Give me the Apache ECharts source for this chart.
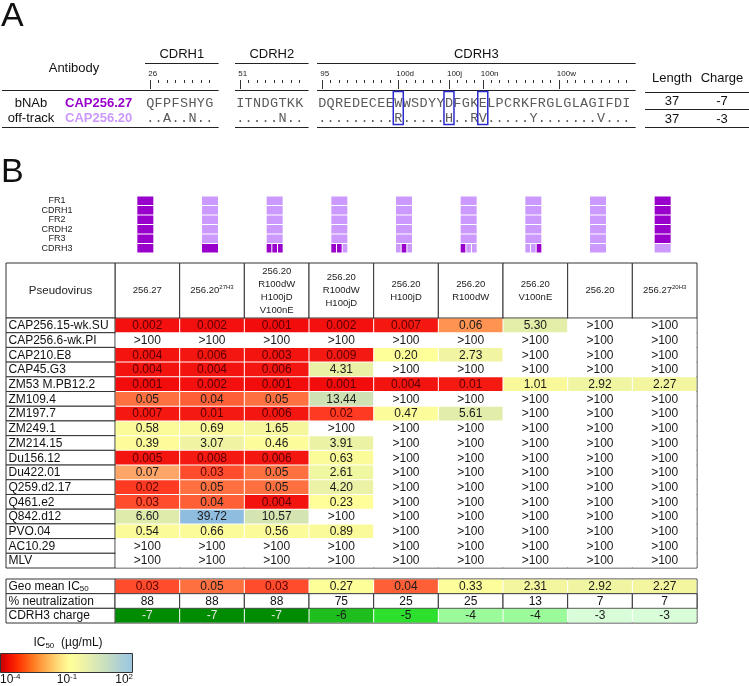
<!DOCTYPE html>
<html><head><meta charset="utf-8">
<script src="https://cdn.jsdelivr.net/npm/echarts@6/dist/echarts.min.js"></script>
<style>html,body{margin:0;padding:0;background:#fff}#c{width:749px;height:686px}</style>
</head><body><div id="c"></div>
<script>
// ================= DATA =================
// Panel A
const abRoles = ['bNAb', 'off-track'];
const abNames = ['CAP256.27', 'CAP256.20'];
const cdrBlocks = ['CDRH1', 'CDRH2', 'CDRH3'];
const cdrh1Seq = ['QFPFSHYG', '..A..N..'];
const cdrh2Seq = ['ITNDGTKK', '.....N..'];
const cdrh3Seq = ['DQREDECEEWWSDYYDFGKELPCRKFRGLGLAGIFDI', '.........R.....H..RV.....Y.......V...'];
const cdrh1Numbering = [[0, '26']];
const cdrh2Numbering = [[0, '51']];
const cdrh3Numbering = [[0, '95'], [9, '100d'], [15, '100j'], [19, '100n'], [28, '100w']];
const cdrh3Boxed = [9, 15, 19];
const seqLength = ['37', '37'];
const seqCharge = ['-7', '-3'];

// Panel B
const regionLabels = ['FR1', 'CDRH1', 'FR2', 'CRDH2', 'FR3', 'CDRH3'];
const colHeaders = [
  ['256.27'],
  ['256.20{s|27H3}'],
  ['256.20', 'R100dW', 'H100jD', 'V100nE'],
  ['256.20', 'R100dW', 'H100jD'],
  ['256.20', 'H100jD'],
  ['256.20', 'R100dW'],
  ['256.20', 'V100nE'],
  ['256.20'],
  ['256.27{s|20H3}']
];
// 1 = region from CAP256.27, 0 = from CAP256.20 ; CDRH3 given per mutated site when mixed
const fwOrigin = [1, 0, 0, 0, 0, 0, 0, 0, 1];
const h3Origin = [1, 1, [1, 1, 1], [1, 1, 0], [0, 1, 0], [1, 0, 0], [0, 0, 1], 0, 0];
const viruses = ['CAP256.15-wk.SU', 'CAP256.6-wk.PI', 'CAP210.E8', 'CAP45.G3', 'ZM53 M.PB12.2', 'ZM109.4', 'ZM197.7', 'ZM249.1', 'ZM214.15', 'Du156.12', 'Du422.01', 'Q259.d2.17', 'Q461.e2', 'Q842.d12', 'PVO.04', 'AC10.29', 'MLV'];
const ic50 = [
  ['0.002', '0.002', '0.001', '0.002', '0.007', '0.06', '5.30', '>100', '>100'],
  ['>100', '>100', '>100', '>100', '>100', '>100', '>100', '>100', '>100'],
  ['0.004', '0.006', '0.003', '0.009', '0.20', '2.73', '>100', '>100', '>100'],
  ['0.004', '0.004', '0.006', '4.31', '>100', '>100', '>100', '>100', '>100'],
  ['0.001', '0.002', '0.001', '0.001', '0.004', '0.01', '1.01', '2.92', '2.27'],
  ['0.05', '0.04', '0.05', '13.44', '>100', '>100', '>100', '>100', '>100'],
  ['0.007', '0.01', '0.006', '0.02', '0.47', '5.61', '>100', '>100', '>100'],
  ['0.58', '0.69', '1.65', '>100', '>100', '>100', '>100', '>100', '>100'],
  ['0.39', '3.07', '0.46', '3.91', '>100', '>100', '>100', '>100', '>100'],
  ['0.005', '0.008', '0.006', '0.63', '>100', '>100', '>100', '>100', '>100'],
  ['0.07', '0.03', '0.05', '2.61', '>100', '>100', '>100', '>100', '>100'],
  ['0.02', '0.05', '0.05', '4.20', '>100', '>100', '>100', '>100', '>100'],
  ['0.03', '0.04', '0.004', '0.23', '>100', '>100', '>100', '>100', '>100'],
  ['6.60', '39.72', '10.57', '>100', '>100', '>100', '>100', '>100', '>100'],
  ['0.54', '0.66', '0.56', '0.89', '>100', '>100', '>100', '>100', '>100'],
  ['>100', '>100', '>100', '>100', '>100', '>100', '>100', '>100', '>100'],
  ['>100', '>100', '>100', '>100', '>100', '>100', '>100', '>100', '>100']
];
const summaryLabels = ['Geo mean IC{sub|50}', '% neutralization', 'CDRH3 charge'];
const geoMean = ['0.03', '0.05', '0.03', '0.27', '0.04', '0.33', '2.31', '2.92', '2.27'];
const pctNeut = ['88', '88', '88', '75', '25', '25', '13', '7', '7'];
const h3Charge = [-7, -7, -7, -6, -5, -4, -4, -3, -3];
const cbTitle = 'IC{sub|50}  (µg/mL)';
const cbTickLabels = ['10{sup|-4}', '10{sup|-1}', '10{sup|2}'];

// ================= STYLE =================
const FONT = '"Liberation Sans", Arial, sans-serif';
const MONO = '"Liberation Mono", "Courier New", monospace';
const DARK = '#9900CC', LIGHT = '#CC99FF';
const LINE = '#333';
const ic50Stops = [[-4, '#C00000'], [-3.5, '#E00404'], [-3, '#F20C0C'], [-2, '#F41A12'], [-1.7, '#FF3A22'], [-1.5, '#FF4E2E'], [-1.3, '#FF7040'], [-1.22, '#FF9452'], [-1.15, '#FFA66A'], [-1, '#FFDD88'], [-0.7, '#FFFF99'], [0, '#FAF99A'], [0.4, '#F2F6A0'], [0.6, '#ECF2A4'], [0.75, '#E2EDA9'], [1.0, '#D5E6B0'], [1.13, '#CFE2B4'], [1.6, '#8FBDE0'], [2, '#88BADF']];
const chargeColors = {'-7': '#008C00', '-6': '#1EBE1E', '-5': '#2EE02E', '-4': '#9BFB9B', '-3': '#D9FDD9'};
const cbStops = [[0, '#C00000'], [0.06, '#EE0A00'], [0.14, '#FF3300'], [0.25, '#FF7A22'], [0.35, '#FFB050'], [0.43, '#FFD877'], [0.52, '#FFFF99'], [0.6, '#F4F6A2'], [0.7, '#DDEBB2'], [0.82, '#C3DBC4'], [0.91, '#ABCFD6'], [1, '#9AC6E2']];

function hexToRgb(h) { return [1, 3, 5].map(i => parseInt(h.substr(i, 2), 16)); }
function rgbToHex(a) { return '#' + a.map(v => Math.round(v).toString(16).padStart(2, '0')).join(''); }
function interpStops(stops, t) {
  if (t <= stops[0][0]) return stops[0][1];
  for (let i = 1; i < stops.length; i++) {
    if (t <= stops[i][0]) {
      const f = (t - stops[i - 1][0]) / (stops[i][0] - stops[i - 1][0]);
      const a = hexToRgb(stops[i - 1][1]), b = hexToRgb(stops[i][1]);
      return rgbToHex(a.map((v, k) => v + (b[k] - v) * f));
    }
  }
  return stops[stops.length - 1][1];
}
const ic50Palette = [];
for (let k = 0; k <= 300; k++) ic50Palette.push(interpStops(ic50Stops, -4 + k * 0.02));

function logIc50(txt) { return txt.charAt(0) === '>' ? Infinity : Math.log10(parseFloat(txt)); }
function valueTextColor(txt) { const v = parseFloat(txt); return v < 0.035 ? '#5a0000' : '#1a1a1a'; }

// ================= LAYOUT =================
const CW = 8.45;
const blockLeft = [146, 236, 318];
const seqTop = 95.5, seqH = 30, tickAxisY = 80;
const colL = 115, colW = 582, nameL = 6, nameW = 109;
const headTop = 263, headH = 55, bodyTop = 318, bodyH = 250, sumTop = 579, sumH = 44;

const grids = [], xAxes = [], yAxes = [], series = [];
function addGrid(g) { grids.push(Object.assign({containLabel: false, outerBoundsMode: 'none'}, g)); return grids.length - 1; }
function hiddenCat(gi, data, inverse) { return {type: 'category', gridIndex: gi, data, show: false, inverse: !!inverse}; }

// ---------- Panel A ----------
const cdrSeqs = [cdrh1Seq, cdrh2Seq, cdrh3Seq];
const cdrNumbering = [cdrh1Numbering, cdrh2Numbering, cdrh3Numbering];
cdrSeqs.forEach((pair, b) => {
  const n = pair[0].length;
  const marks = new Array(n).fill('');
  cdrNumbering[b].forEach(([i, t]) => marks[i] = t);
  const cats = marks.map((_, i) => 'p' + i);
  const gi = addGrid({left: blockLeft[b], width: n * CW, top: seqTop, height: seqH});
  const off = seqTop - tickAxisY;
  xAxes.push({type: 'category', gridIndex: gi, data: cats, position: 'top', offset: off,
    axisLine: {show: false, onZero: false}, axisLabel: {show: false, interval: 0},
    axisTick: {show: true, inside: true, alignWithLabel: true, interval: 0, length: 3, lineStyle: {color: LINE, width: 1}}});
  const xs = xAxes.length - 1;
  xAxes.push({type: 'category', gridIndex: gi, data: cats, position: 'top', offset: off,
    axisLine: {show: false, onZero: false},
    axisLabel: {show: true, interval: 0, formatter: (v, i) => marks[i], fontSize: 8, fontFamily: FONT, color: '#222', align: 'left', margin: 2, padding: [0, 0, 0, -2]},
    axisTick: {show: true, inside: true, alignWithLabel: true, interval: (i) => marks[i] !== '', length: 9, lineStyle: {color: LINE, width: 1}}});
  yAxes.push({type: 'value', gridIndex: gi, min: 0, max: 2, inverse: true, show: false});
  const ya = yAxes.length - 1;
  const items = [], chars = [];
  pair.forEach((s, r) => s.split('').forEach((ch, i) => { items.push([i, r + 0.5]); chars.push(ch); }));
  series.push({type: 'custom', coordinateSystem: 'cartesian2d', xAxisIndex: xs, yAxisIndex: ya, data: items, silent: true,
    renderItem: (p, api) => {
      const c = api.coord([api.value(0), api.value(1)]);
      return {type: 'text', style: {text: chars[p.dataIndex], x: c[0], y: c[1], align: 'center', verticalAlign: 'middle', fontFamily: MONO, fontSize: 13.5, fill: '#5a5a5a'}};
    }});
  if (b === 2) {
    series.push({type: 'custom', coordinateSystem: 'cartesian2d', xAxisIndex: xs, yAxisIndex: ya, silent: true,
      data: cdrh3Boxed.map(i => [i, 1]),
      renderItem: (p, api) => {
        const c = api.coord([api.value(0), api.value(1)]);
        return {type: 'rect', shape: {x: c[0] - 5, y: c[1] - 19, width: 10, height: 33}, style: {fill: 'none', stroke: '#2B2BD0', lineWidth: 1.5}};
      }});
  }
});

// ---------- Panel B icons ----------
const gIcon = addGrid({left: 113, width: colW, top: 196, height: 57});
xAxes.push(hiddenCat(gIcon, colHeaders.map((_, i) => 'c' + i)));
const xIcon = xAxes.length - 1;
yAxes.push({type: 'category', gridIndex: gIcon, data: regionLabels, inverse: true,
  axisLine: {show: false}, axisTick: {show: false},
  axisLabel: {show: true, interval: 0, align: 'center', margin: 56, fontSize: 9, fontFamily: FONT, color: '#222'}});
const yIcon = yAxes.length - 1;
const iconData = [];
colHeaders.forEach((_, c) => regionLabels.forEach((_, r) => iconData.push([c, r])));
series.push({type: 'custom', coordinateSystem: 'cartesian2d', xAxisIndex: xIcon, yAxisIndex: yIcon, data: iconData, silent: true,
  renderItem: (p, api) => {
    const col = api.value(0), row = api.value(1);
    const c = api.coord([col, row]);
    const bh = api.size([0, 1])[1];
    const w = 16, y0 = c[1] - bh / 2 + 0.5, h = bh - 1;
    const kids = [];
    const origin = row < 5 ? fwOrigin[col] : h3Origin[col];
    if (Array.isArray(origin)) {
      const gap = 1, sw = (w - 2 * gap) / 3;
      origin.forEach((o, k) => kids.push({type: 'rect', shape: {x: c[0] - w / 2 + k * (sw + gap), y: y0, width: sw, height: h}, style: {fill: o ? DARK : LIGHT}}));
    } else {
      kids.push({type: 'rect', shape: {x: c[0] - w / 2, y: y0, width: w, height: h}, style: {fill: origin ? DARK : LIGHT}});
    }
    return {type: 'group', children: kids};
  }});

// ---------- header row ----------
function boxCell(c, s) { return {type: 'rect', shape: {x: c[0] - s[0] / 2, y: c[1] - s[1] / 2, width: s[0], height: s[1]}, style: {fill: '#fff', stroke: LINE, lineWidth: 1}}; }
const gHead = addGrid({left: colL, width: colW, top: headTop, height: headH});
xAxes.push(hiddenCat(gHead, colHeaders.map((_, i) => 'c' + i)));
yAxes.push(hiddenCat(gHead, ['h']));
series.push({type: 'custom', coordinateSystem: 'cartesian2d', xAxisIndex: xAxes.length - 1, yAxisIndex: yAxes.length - 1, silent: true,
  data: colHeaders.map((_, i) => [i, 0]),
  renderItem: (p, api) => {
    const col = api.value(0); const c = api.coord([col, 0]); const s = api.size([1, 1]);
    return {type: 'group', children: [boxCell(c, s),
      {type: 'text', style: {text: colHeaders[col].join('\n'), x: c[0], y: c[1], align: 'center', verticalAlign: 'middle', fontSize: 9.5, fontFamily: FONT, lineHeight: 13, fill: '#222',
        rich: {s: {fontSize: 6, fontFamily: FONT, verticalAlign: 'top', lineHeight: 13, fill: '#222'}}}}]};
  }});
const gPH = addGrid({left: nameL, width: nameW, top: headTop, height: headH});
xAxes.push(hiddenCat(gPH, ['n']));
yAxes.push(hiddenCat(gPH, ['h']));
series.push({type: 'custom', coordinateSystem: 'cartesian2d', xAxisIndex: xAxes.length - 1, yAxisIndex: yAxes.length - 1, silent: true,
  data: [[0, 0]],
  renderItem: (p, api) => {
    const c = api.coord([0, 0]); const s = api.size([1, 1]);
    return {type: 'group', children: [boxCell(c, s),
      {type: 'text', style: {text: 'Pseudovirus', x: c[0], y: c[1], align: 'center', verticalAlign: 'middle', fontSize: 11.5, fontFamily: FONT, fill: '#222'}}]};
  }});

// ---------- names column ----------
function nameColumn(top, height, labels) {
  const gi = addGrid({left: nameL, width: nameW, top, height});
  xAxes.push(hiddenCat(gi, ['n']));
  yAxes.push(hiddenCat(gi, labels.map((_, i) => 'r' + i), true));
  series.push({type: 'custom', coordinateSystem: 'cartesian2d', xAxisIndex: xAxes.length - 1, yAxisIndex: yAxes.length - 1, silent: true,
    data: labels.map((_, i) => [0, i]),
    renderItem: (p, api) => {
      const r = api.value(1); const c = api.coord([0, r]); const s = api.size([1, 1]);
      return {type: 'group', children: [boxCell(c, s),
        {type: 'text', style: {text: labels[r], x: c[0] - s[0] / 2 + 2.5, y: c[1] + 0.5, align: 'left', verticalAlign: 'middle', fontSize: 12, fontFamily: FONT, fill: '#111',
          rich: {sub: {fontSize: 8, fontFamily: FONT, verticalAlign: 'bottom', fill: '#111', padding: [4, 0, 0, 0]}}}}]};
    }});
}
nameColumn(bodyTop, bodyH, viruses);
nameColumn(sumTop, sumH, summaryLabels);

// ---------- main data ----------
function colorCell(c, s, fill) { return {type: 'rect', shape: {x: c[0] - s[0] / 2 + 0.5, y: c[1] - s[1] / 2 + 0.5, width: s[0] - 1, height: s[1] - 1}, style: {fill}}; }
function cellText(c, txt, color) { return {type: 'text', style: {text: txt, x: c[0], y: c[1] + 0.5, align: 'center', verticalAlign: 'middle', fontSize: 12, fontFamily: FONT, fill: color}}; }
const gBody = addGrid({left: colL, width: colW, top: bodyTop, height: bodyH, show: true, borderColor: LINE, borderWidth: 1, backgroundColor: 'transparent'});
xAxes.push(hiddenCat(gBody, colHeaders.map((_, i) => 'c' + i)));
yAxes.push(hiddenCat(gBody, viruses, true));
const bodyData = [];
ic50.forEach((row, r) => row.forEach((t, c) => bodyData.push([c, r, logIc50(t)])));
const iMain = series.length;
series.push({type: 'custom', coordinateSystem: 'cartesian2d', xAxisIndex: xAxes.length - 1, yAxisIndex: yAxes.length - 1, silent: true,
  data: bodyData,
  renderItem: (p, api) => {
    const col = api.value(0), row = api.value(1);
    const c = api.coord([col, row]); const s = api.size([1, 1]);
    const txt = ic50[row][col];
    const fill = txt.charAt(0) === '>' ? '#fff' : api.visual('color');
    return {type: 'group', children: [colorCell(c, s, fill), cellText(c, txt, valueTextColor(txt))]};
  }});

// ---------- summary ----------
const gSum = addGrid({left: colL, width: colW, top: sumTop, height: sumH, show: true, borderColor: LINE, borderWidth: 1, backgroundColor: 'transparent'});
xAxes.push(hiddenCat(gSum, colHeaders.map((_, i) => 'c' + i)));
yAxes.push(hiddenCat(gSum, ['geo', 'pct', 'chg'], true));
const xS = xAxes.length - 1, yS = yAxes.length - 1;
const iGeo = series.length;
series.push({type: 'custom', coordinateSystem: 'cartesian2d', xAxisIndex: xS, yAxisIndex: yS, silent: true,
  data: geoMean.map((t, c) => [c, 0, logIc50(t)]),
  renderItem: (p, api) => {
    const col = api.value(0); const c = api.coord([col, 0]); const s = api.size([1, 1]);
    return {type: 'group', children: [colorCell(c, s, api.visual('color')), cellText(c, geoMean[col], valueTextColor(geoMean[col]))]};
  }});
series.push({type: 'custom', coordinateSystem: 'cartesian2d', xAxisIndex: xS, yAxisIndex: yS, silent: true,
  data: pctNeut.map((t, c) => [c, 1, +t]),
  renderItem: (p, api) => {
    const col = api.value(0); const c = api.coord([col, 1]); const s = api.size([1, 1]);
    return {type: 'group', children: [boxCell(c, s), cellText(c, pctNeut[col], '#111')]};
  }});
const iCharge = series.length;
series.push({type: 'custom', coordinateSystem: 'cartesian2d', xAxisIndex: xS, yAxisIndex: yS, silent: true,
  data: h3Charge.map((v, c) => [c, 2, v]),
  renderItem: (p, api) => {
    const col = api.value(0); const c = api.coord([col, 2]); const s = api.size([1, 1]);
    const v = h3Charge[col];
    return {type: 'group', children: [colorCell(c, s, api.visual('color')), cellText(c, String(v), v <= -7 ? '#e6e6e6' : '#1a1a1a')]};
  }});

// ---------- graphic: labels, rules, colour bar ----------
const G = [];
function txt(text, x, y, o) { G.push({type: 'text', x, y, silent: true, style: Object.assign({text, align: 'center', verticalAlign: 'middle', fontSize: 13, fontFamily: FONT, fill: '#111'}, o || {})}); }
function hline(x1, x2, y, o) { G.push({type: 'line', silent: true, shape: {x1, y1: y, x2, y2: y}, style: Object.assign({stroke: '#222', lineWidth: 1}, o || {})}); }
txt('A', 1, 17, {align: 'left', fontSize: 34});
txt('B', 1, 173, {align: 'left', fontSize: 34});
txt('Antibody', 74, 68);
cdrBlocks.forEach((name, b) => {
  const n = cdrSeqs[b][0].length;
  const x1 = blockLeft[b] - 1, x2 = blockLeft[b] + n * CW + 5;
  txt(name, (x1 + x2) / 2, 54);
  hline(x1, x2, 63.5);
  hline(b === 0 ? 2 : x1, x2, 90.5);
  hline(b === 0 ? 2 : x1, x2, 127.5);
});
abRoles.forEach((r, i) => {
  txt(r, 31, 103 + 15 * i);
  txt(abNames[i], 65, 103 + 15 * i, {align: 'left', fontWeight: 'bold', fill: i === 0 ? DARK : LIGHT});
  txt(seqLength[i], 672, 101 + 18 * i);
  txt(seqCharge[i], 722, 101 + 18 * i);
});
txt('Length', 672, 78);
txt('Charge', 722, 78);
hline(645, 749, 92.5); hline(645, 749, 109.5); hline(645, 749, 127.5);
// colour bar
G.push({type: 'rect', silent: true, shape: {x: 0.5, y: 653.5, width: 132, height: 19},
  style: {fill: {type: 'linear', x: 0, y: 0, x2: 1, y2: 0, colorStops: cbStops.map(([o, c]) => ({offset: o, color: c}))}, stroke: LINE, lineWidth: 1}});
const richSS = {sub: {fontSize: 8, fontFamily: FONT, fill: '#111', verticalAlign: 'bottom', padding: [5, 0, 0, 0]}, sup: {fontSize: 8, fontFamily: FONT, fill: '#111', verticalAlign: 'top', padding: [0, 0, 6, 0]}};
txt(cbTitle, 68, 643, {fontSize: 12, rich: richSS});
txt(cbTickLabels[0], 0, 680, {align: 'left', fontSize: 12, rich: richSS});
txt(cbTickLabels[1], 67, 680, {fontSize: 12, rich: richSS});
txt(cbTickLabels[2], 133, 680, {align: 'right', fontSize: 12, rich: richSS});

const option = {
  animation: false,
  backgroundColor: '#fff',
  grid: grids, xAxis: xAxes, yAxis: yAxes, series,
  visualMap: [
    {type: 'continuous', show: false, min: -4, max: 2, dimension: 2, seriesIndex: [iMain, iGeo], inRange: {color: ic50Palette}, outOfRange: {color: '#fff'}},
    {type: 'piecewise', show: false, dimension: 2, seriesIndex: [iCharge], pieces: Object.keys(chargeColors).map(k => ({value: +k, color: chargeColors[k]}))}
  ],
  graphic: G
};
const chart = echarts.init(document.getElementById('c'), null, {renderer: 'canvas', width: 749, height: 686});
chart.setOption(option);
</script></body></html>
